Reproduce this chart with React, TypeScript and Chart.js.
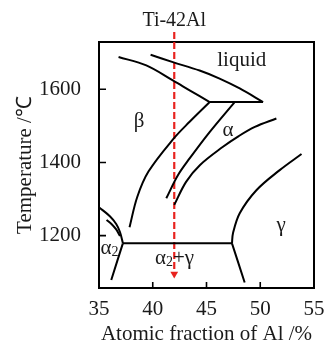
import React, { useEffect, useRef } from "react";
import { Chart, registerables } from "chart.js";

Chart.register(...registerables);

// ---- axis data ----
const xTicks = [35, 40, 45, 50, 55];
const yTicks = [1200, 1400, 1600];
const xMin = 35;
const xMax = 55;
const yMin = 1057;
const yMax = 1729;

// ---- phase boundaries (Al at.%, temperature °C) ----
const liquidusX = [39.8, 41.87, 44.36, 46.22, 48.09, 50.26];
const liquidusY = [1694, 1674, 1651, 1629, 1602, 1565];

const betaLiquidusX = [36.82, 39.4, 41.87, 43.43, 45.3];
const betaLiquidusY = [1688, 1665, 1624, 1597, 1565];

const peritecticX = [45.3, 50.26];
const peritecticY = [1565, 1565];

const betaTransusX = [45.3, 43.43, 41.94, 39.6, 38.55, 37.84];
const betaTransusY = [1565, 1511, 1465, 1375, 1305, 1223];

const alphaBetaX = [47.62, 45.29, 43.43, 42.34, 41.26];
const alphaBetaY = [1565, 1483, 1411, 1365, 1302];

const alphaGammaX = [51.5, 49.5, 48.0, 46.5, 44.4, 43.1, 42.0];
const alphaGammaY = [1520, 1497, 1472, 1442, 1393, 1347, 1284];

const gammaX = [53.84, 51.81, 49.64, 48.09, 47.46, 47.37];
const gammaY = [1423, 1379, 1324, 1261, 1206, 1179];

const eutectoidX = [37.22, 47.37];
const eutectoidY = [1179, 1179];

const lowerRightX = [47.37, 48.55];
const lowerRightY = [1179, 1072];

const lowerLeftX = [37.22, 36.14];
const lowerLeftY = [1179, 1079];

const alpha2OuterX = [35.02, 36.01, 36.6, 36.95, 37.22];
const alpha2OuterY = [1277, 1253, 1232, 1210, 1180];

const alpha2InnerX = [35.7, 36.16, 36.6, 36.95];
const alpha2InnerY = [1243, 1232, 1217, 1199];

const curves: [number[], number[]][] = [
  [liquidusX, liquidusY],
  [betaLiquidusX, betaLiquidusY],
  [peritecticX, peritecticY],
  [betaTransusX, betaTransusY],
  [alphaBetaX, alphaBetaY],
  [alphaGammaX, alphaGammaY],
  [gammaX, gammaY],
  [eutectoidX, eutectoidY],
  [lowerRightX, lowerRightY],
  [lowerLeftX, lowerLeftY],
  [alpha2OuterX, alpha2OuterY],
  [alpha2InnerX, alpha2InnerY],
];

// ---- composition marker ----
const markerLabel = "Ti-42Al";
const markerX = 42;
const markerTopY = 1756;
const markerArrowY = 1095;

// ---- region labels ----
const labelMain = ["liquid", "β", "α", "γ", "α", "α"];
const labelSub = ["", "", "", "", "2", "2"];
const labelTail = ["", "", "", "", "", "+γ"];
const labelX = [46.0, 38.24, 46.48, 51.5, 35.15, 40.2];
const labelY = [1663, 1497, 1472, 1214, 1150, 1122];

const SERIF = '"Liberation Serif", "Times New Roman", serif';
const TEXT = "#1a1a1a";
const RED = "#e8231f";

const toPts = (xs: number[], ys: number[]) => xs.map((x, i) => ({ x, y: ys[i] }));

const decorPlugin = {
  id: "decor",
  beforeDatasetsDraw(chart: any) {
    const { ctx, chartArea: a, scales } = chart;
    ctx.save();
    ctx.strokeStyle = "#000";
    ctx.lineWidth = 2;
    ctx.strokeRect(a.left, a.top, a.right - a.left, a.bottom - a.top);
    ctx.lineWidth = 1.6;
    ctx.beginPath();
    for (const v of xTicks) {
      const px = scales.x.getPixelForValue(v);
      if (px > a.left + 2 && px < a.right - 2) {
        ctx.moveTo(px, a.bottom);
        ctx.lineTo(px, a.bottom - 6);
      }
    }
    for (const v of yTicks) {
      const py = scales.y.getPixelForValue(v);
      ctx.moveTo(a.left, py);
      ctx.lineTo(a.left + 7, py);
    }
    ctx.stroke();
    ctx.restore();
  },
  afterDatasetsDraw(chart: any) {
    const { ctx, chartArea: a, scales } = chart;
    ctx.save();
    ctx.fillStyle = TEXT;
    ctx.textBaseline = "alphabetic";
    // marker title
    ctx.font = `20px ${SERIF}`;
    ctx.textAlign = "center";
    ctx.fillText(markerLabel, scales.x.getPixelForValue(markerX), a.top - 16);
    // region labels
    ctx.textAlign = "left";
    for (let i = 0; i < labelMain.length; i++) {
      let px = scales.x.getPixelForValue(labelX[i]);
      const py = scales.y.getPixelForValue(labelY[i]);
      const size = i === 0 ? 21 : 21;
      ctx.font = `${size}px ${SERIF}`;
      ctx.fillText(labelMain[i], px, py);
      px += ctx.measureText(labelMain[i]).width;
      if (labelSub[i]) {
        ctx.font = `14px ${SERIF}`;
        ctx.fillText(labelSub[i], px, py + 2);
        px += ctx.measureText(labelSub[i]).width;
      }
      if (labelTail[i]) {
        ctx.font = `${size}px ${SERIF}`;
        ctx.fillText(labelTail[i], px, py);
      }
    }
    ctx.restore();
  },
};

export default function App() {
  const ref = useRef<HTMLCanvasElement>(null);
  useEffect(() => {
    const datasets: any[] = curves.map(([xs, ys]) => ({
      data: toPts(xs, ys),
      showLine: true,
      borderColor: "#000",
      borderWidth: 2,
      pointRadius: 0,
      tension: 0.35,
      fill: false,
    }));
    datasets.push({
      data: [
        { x: markerX, y: markerTopY },
        { x: markerX, y: markerArrowY },
      ],
      showLine: true,
      borderColor: RED,
      borderWidth: 2.2,
      borderDash: [7, 3],
      pointRadius: 0,
      clip: false,
    });
    datasets.push({
      data: [{ x: markerX, y: markerArrowY }],
      showLine: false,
      pointStyle: "triangle",
      rotation: 180,
      pointRadius: 4.5,
      backgroundColor: RED,
      borderColor: RED,
      borderWidth: 0,
      clip: false,
    });
    const chart = new Chart(ref.current!, {
      type: "scatter",
      data: { datasets },
      plugins: [decorPlugin],
      options: {
        animation: false,
        responsive: false,
        devicePixelRatio: 1,
        events: [],
        layout: { padding: { top: 42, right: 13, left: 0, bottom: 0 } },
        plugins: { legend: { display: false }, tooltip: { enabled: false } },
        scales: {
          x: {
            type: "linear",
            min: xMin,
            max: xMax,
            afterBuildTicks: (s: any) => {
              s.ticks = xTicks.map((v) => ({ value: v }));
            },
            afterFit: (s: any) => {
              s.height = 56;
            },
            grid: { display: false },
            border: { display: false },
            ticks: {
              font: { family: SERIF, size: 21 },
              color: TEXT,
              padding: 1,
              maxRotation: 0,
              autoSkip: false,
              callback: (v: any) => String(v),
            },
            title: {
              display: true,
              text: "Atomic fraction of Al /%",
              font: { family: SERIF, size: 21 },
              color: TEXT,
              padding: { top: 0, bottom: -3 },
            },
          },
          y: {
            type: "linear",
            min: yMin,
            max: yMax,
            afterBuildTicks: (s: any) => {
              s.ticks = yTicks.map((v) => ({ value: v }));
            },
            afterFit: (s: any) => {
              s.width = 99;
            },
            grid: { display: false },
            border: { display: false },
            ticks: {
              font: { family: SERIF, size: 21 },
              color: TEXT,
              padding: 10,
              autoSkip: false,
              callback: (v: any) => String(v),
            },
            title: {
              display: true,
              text: "Temperature /℃",
              font: { family: SERIF, size: 21 },
              color: TEXT,
              padding: { top: 13, bottom: 0 },
            },
          },
        },
      } as any,
    });
    return () => chart.destroy();
  }, []);
  return (
    <div style={{ position: "fixed", left: 0, top: 0, width: 327, height: 344 }}>
      <canvas ref={ref} width={327} height={344} style={{ display: "block", width: 327, height: 344 }} />
    </div>
  );
}
